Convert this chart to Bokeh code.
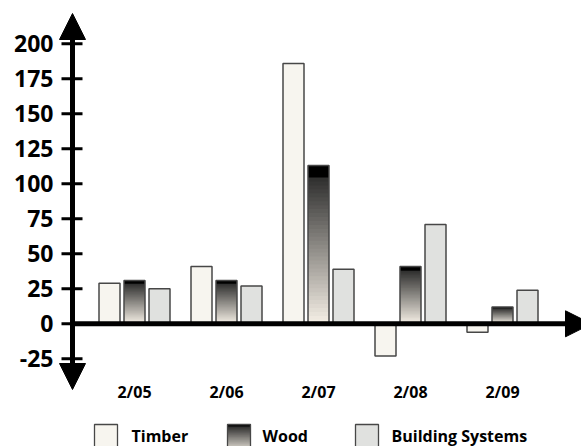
from bokeh.plotting import figure
from bokeh.models import Range1d, Arrow, NormalHead, ColumnDataSource
from bokeh.transform import dodge
from bokeh.core.properties import value
from bokeh.embed import file_html
from bokeh.resources import INLINE

# ---- data ----
dates = ["2/05", "2/06", "2/07", "2/08", "2/09"]
series = ["Timber", "Wood", "Building Systems"]
timber = [29, 41, 186, -23, -6]
wood = [31, 31, 113, 41, 12]
building = [25, 27, 39, 71, 24]
y_ticks = [-25, 0, 25, 50, 75, 100, 125, 150, 175, 200]
y_tick_labels = ["-25", "0", "25", "50", "75", "100", "125", "150", "175", "200"]

# ---- layout / style ----
W, H = 581, 446
GROUP_PX = 92.0        # pixels per category
C0 = 134.0             # pixel x of first category centre
PX = 1.4               # pixels per value unit
ZERO = 323.3           # pixel y of value 0
FONT = value("Open Sans")
TIMBER_C = "#f7f5ef"
BS_C = "#e0e1df"
EDGE = "#474747"
OFF = 25.0 / GROUP_PX  # series offset within a category
BAR_W = 21.0 / GROUP_PX


def gx(px):
    """canvas pixel x -> category-index coordinate"""
    return (px - C0) / GROUP_PX


x_range = Range1d(gx(0), gx(W))
y_range = Range1d(-(H - ZERO) / PX, ZERO / PX)

p = figure(width=W, height=H, x_range=x_range, y_range=y_range,
           output_backend="svg", toolbar_location=None,
           x_axis_location=None, y_axis_location=None,
           min_border_left=0, min_border_right=0,
           min_border_top=0, min_border_bottom=0)
p.outline_line_color = None
p.grid.visible = False
p.background_fill_color = "white"
p.border_fill_color = "white"
p.extra_y_ranges = {"px": Range1d(H, 0)}

src = ColumnDataSource(dict(idx=list(range(len(dates))), date=dates,
                            timber=timber, wood=wood, building=building))


def wood_color(t):
    # t: 0 bottom -> 1 top
    if t > 0.93:
        return "#000000"
    bot = (246, 240, 230)
    top = (45, 45, 45)
    f = t / 0.93
    c = [round(b + (tp - b) * f) for b, tp in zip(bot, top)]
    return "#%02x%02x%02x" % tuple(c)


N = 40

# Timber
p.vbar(x=dodge("idx", -OFF), top="timber", bottom=0, width=BAR_W, source=src,
       fill_color=TIMBER_C, line_color=EDGE, line_width=1.5)
# Wood gradient (stacked slices, each from its level to the bar top)
for k in range(N):
    s = ColumnDataSource(dict(idx=list(range(len(dates))), top=wood,
                              bottom=[v * k / N for v in wood]))
    p.vbar(x="idx", top="top", bottom="bottom", width=BAR_W, source=s,
           fill_color=wood_color((k + 0.5) / N), line_color=None)
p.vbar(x="idx", top="wood", bottom=0, width=BAR_W, source=src,
       fill_color=None, line_color=EDGE, line_width=1.5)
# Building Systems
p.vbar(x=dodge("idx", OFF), top="building", bottom=0, width=BAR_W, source=src,
       fill_color=BS_C, line_color=EDGE, line_width=1.5)

# ---- y axis: ticks + labels ----
p.segment(x0=gx(61), x1=gx(82), y0=y_ticks, y1=y_ticks,
          line_color="black", line_width=3)
p.text(x=gx(53), y=y_ticks, text=y_tick_labels, text_font=FONT,
       text_font_style="bold", text_font_size="23px", text_align="right",
       text_baseline="middle", text_color="black")

# y axis line with arrow heads
p.add_layout(Arrow(start=NormalHead(size=26, fill_color="black", line_color="black"),
                   end=NormalHead(size=26, fill_color="black", line_color="black"),
                   x_start=gx(72), y_start=389, x_end=gx(72), y_end=13,
                   y_range_name="px", line_width=5, line_color="black"))
# x axis line at value 0
p.add_layout(Arrow(end=NormalHead(size=26, fill_color="black", line_color="black"),
                   x_start=gx(72), y_start=0, x_end=gx(591), y_end=0,
                   line_width=5, line_color="black"))

# category labels
p.text(x="idx", y=391, y_range_name="px", source=src,
       text="date", text_font=FONT, text_font_style="bold", text_font_size="16px",
       text_align="center", text_baseline="middle", text_color="black")

# ---- legend ----
leg_x = [94, 227, 355]
leg_tx = [131, 262, 391]
SQ_W = 23
SQ_TOP, SQ_BOT = 424, 452
p.quad(left=[gx(leg_x[0])], right=[gx(leg_x[0] + SQ_W)], top=[SQ_TOP], bottom=[SQ_BOT],
       y_range_name="px", fill_color=TIMBER_C, line_color=EDGE, line_width=1.3)
for k in range(N):
    yb = SQ_BOT - (SQ_BOT - SQ_TOP) * k / N
    p.quad(left=[gx(leg_x[1])], right=[gx(leg_x[1] + SQ_W)], top=[SQ_TOP], bottom=[yb],
           y_range_name="px", fill_color=wood_color((k + 0.5) / N), line_color=None)
p.quad(left=[gx(leg_x[1])], right=[gx(leg_x[1] + SQ_W)], top=[SQ_TOP], bottom=[SQ_BOT],
       y_range_name="px", fill_color=None, line_color=EDGE, line_width=1.3)
p.quad(left=[gx(leg_x[2])], right=[gx(leg_x[2] + SQ_W)], top=[SQ_TOP], bottom=[SQ_BOT],
       y_range_name="px", fill_color=BS_C, line_color=EDGE, line_width=1.3)
p.text(x=[gx(t) for t in leg_tx], y=[435.5] * 3, y_range_name="px",
       text=series, text_font=FONT, text_font_style="bold", text_font_size="16px",
       text_align="left", text_baseline="middle", text_color="black")

open("out.html", "w").write(file_html(p, INLINE))
